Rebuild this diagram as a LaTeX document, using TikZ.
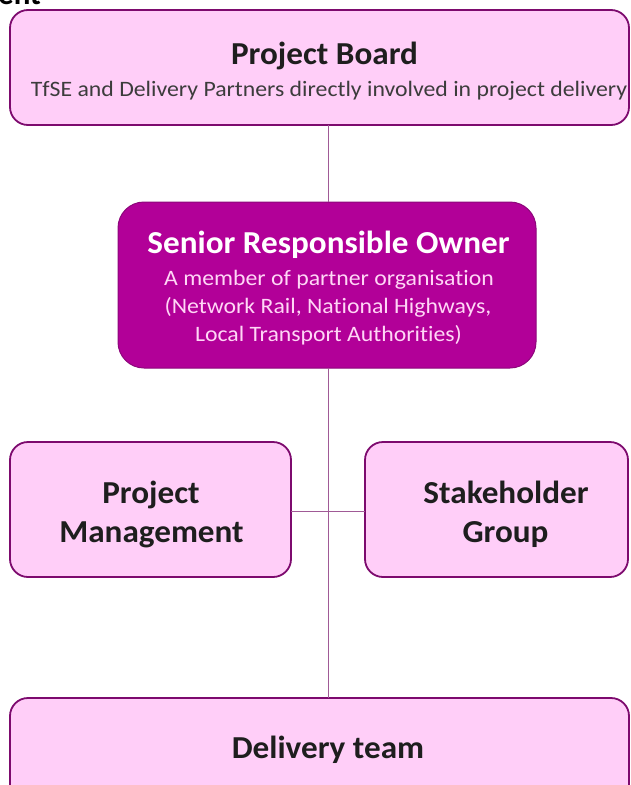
\documentclass[tikz,border=0pt]{standalone}
\usepackage{fontspec}
\setmainfont{Carlito}[Ligatures={NoCommon}]
\definecolor{pinkfill}{RGB}{255,206,248}
\definecolor{bord}{RGB}{125,10,110}
\definecolor{srofill}{RGB}{178,0,152}
\definecolor{srotext}{RGB}{255,214,246}
\definecolor{conn}{RGB}{160,90,150}
\definecolor{txt}{RGB}{30,30,30}
\definecolor{subtxt}{RGB}{60,60,60}
\begin{document}
\begin{tikzpicture}[x=1pt,y=-1pt,
  boxstyle/.style={draw=bord, line width=1.8pt, fill=pinkfill, rounded corners=18pt, inner sep=0pt, outer sep=0pt},
  srostyle/.style={draw=bord!70!srofill, line width=1pt, fill=srofill, rounded corners=26pt, inner sep=0pt, outer sep=0pt},
  ttl/.style={anchor=base, inner sep=0pt, text=txt, xscale=1.037, transform shape, font=\fontsize{32}{38}\selectfont\bfseries},
  subt/.style={anchor=base, inner sep=0pt, text=subtxt, xscale=1.08, transform shape, font=\fontsize{22}{26}\selectfont},
  conline/.style={draw=conn, line width=1pt}]
\useasboundingbox (0,0) rectangle (631,785);
\clip (0,0) rectangle (631,785);
% partial heading text cut at top
\node[anchor=base west, inner sep=0pt, font=\fontsize{31}{36}\selectfont\bfseries] (head) at (-2,4) {ent};
% boxes
\node[boxstyle, minimum width=619pt, minimum height=115pt] (board) at (319.5,67.5) {};
\node[srostyle, minimum width=418pt, minimum height=166pt] (sro) at (327,285) {};
\node[boxstyle, minimum width=281pt, minimum height=135pt] (pm) at (150.5,509.5) {};
\node[boxstyle, minimum width=263pt, minimum height=135pt] (sg) at (496.5,509.5) {};
\node[boxstyle, minimum width=619pt, minimum height=130pt] (dt) at (319.5,763) {};
% junction
\coordinate (jn) at (328,511);
% connectors
\draw[conline] (board.south -| jn) -- (sro.north -| jn);
\draw[conline] (sro.south -| jn) -- (dt.north -| jn);
\draw[conline] (pm.east |- jn) -- (sg.west |- jn);
% texts
\node[ttl] (boardt) at (324.5,64) {Project Board};
\node[subt] (boards) at (329,96) {TfSE and Delivery Partners directly involved in project delivery};
\node[ttl, text=white] (srot) at (328.5,253) {Senior Responsible Owner};
\node[subt, text=srotext] (sros1) at (329,285) {A member of partner organisation};
\node[subt, text=srotext] (sros2) at (328,313) {(Network Rail, National Highways,};
\node[subt, text=srotext] (sros3) at (328.5,341) {Local Transport Authorities)};
\node[ttl] (pmt1) at (151,503) {Project};
\node[ttl] (pmt2) at (151.5,542) {Management};
\node[ttl] (sgt1) at (506,503) {Stakeholder};
\node[ttl] (sgt2) at (505.5,542) {Group};
\node[ttl] (dtt) at (328,758) {Delivery team};
\end{tikzpicture}
\end{document}
